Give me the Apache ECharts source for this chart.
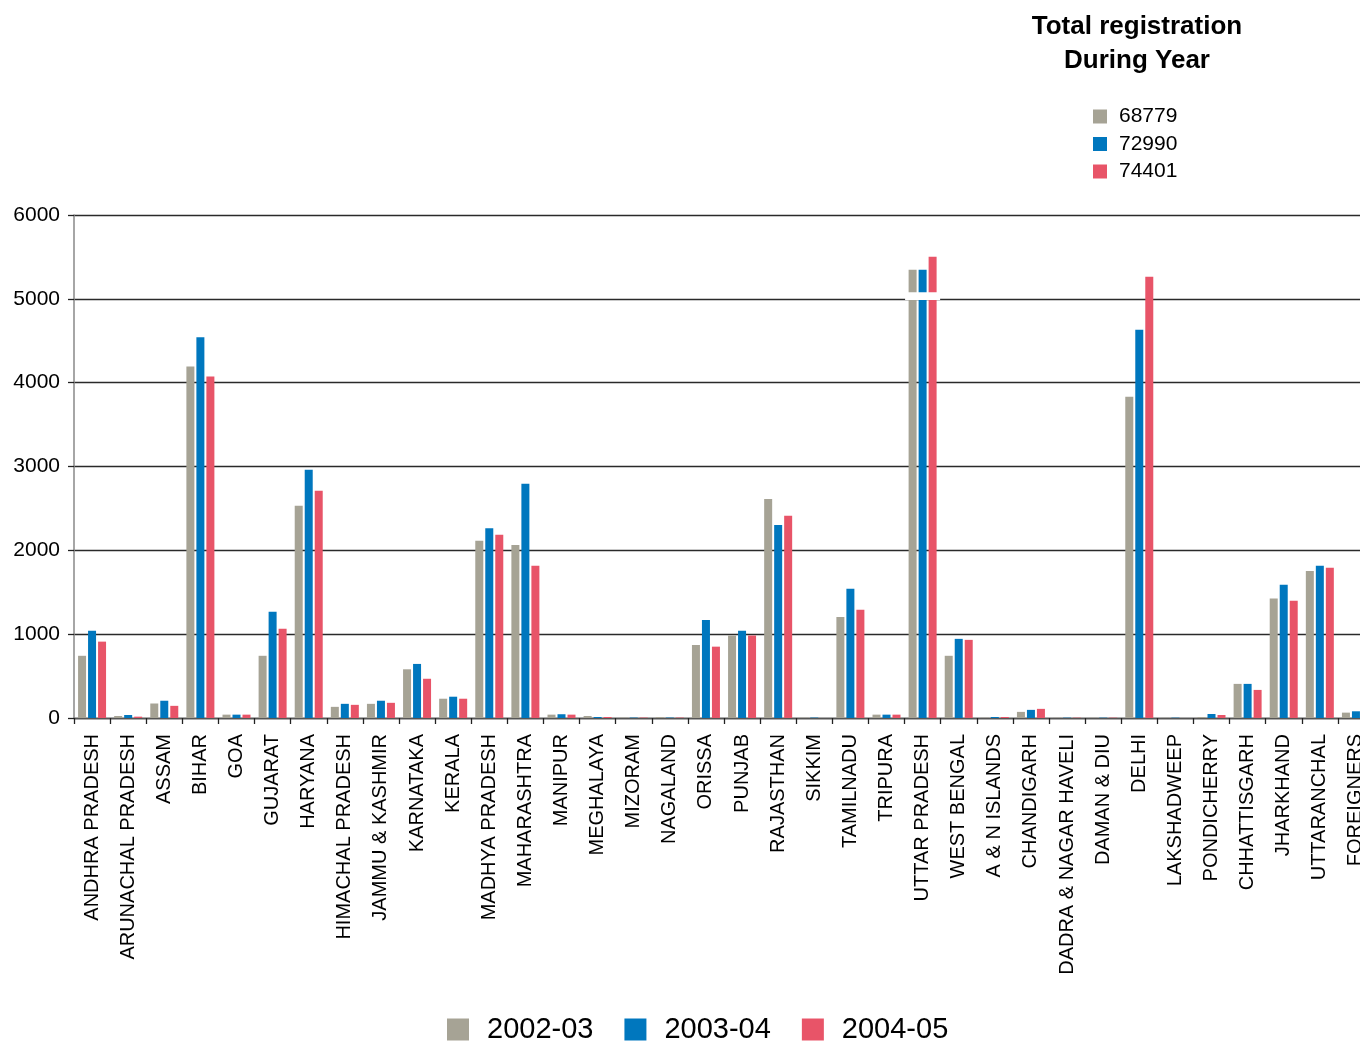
<!DOCTYPE html>
<html style="height: 100%">
<head>
<meta charset="utf-8">
</head>
<body style="height: 100%; margin: 0">
<div id="container" style="width: 1360px; height: 1043px"></div>
<script type="text/javascript" src="https://cdn.jsdelivr.net/npm/echarts@6/dist/echarts.min.js"></script>
<script type="text/javascript">
// states / UTs
var states = ['ANDHRA PRADESH', 'ARUNACHAL PRADESH', 'ASSAM', 'BIHAR', 'GOA', 'GUJARAT', 'HARYANA',
    'HIMACHAL PRADESH', 'JAMMU & KASHMIR', 'KARNATAKA', 'KERALA', 'MADHYA PRADESH', 'MAHARASHTRA',
    'MANIPUR', 'MEGHALAYA', 'MIZORAM', 'NAGALAND', 'ORISSA', 'PUNJAB', 'RAJASTHAN', 'SIKKIM',
    'TAMILNADU', 'TRIPURA', 'UTTAR PRADESH', 'WEST BENGAL', 'A & N ISLANDS', 'CHANDIGARH',
    'DADRA & NAGAR HAVELI', 'DAMAN & DIU', 'DELHI', 'LAKSHADWEEP', 'PONDICHERRY', 'CHHATTISGARH',
    'JHARKHAND', 'UTTARANCHAL', 'FOREIGNERS'];

var years = ['2002-03', '2003-04', '2004-05'];
var yearTotals = [68779, 72990, 74401];

var y2002 = [742, 24, 173, 4194, 40, 742, 2533, 133, 169, 581, 230, 2113, 2065, 40, 24, 5, 12, 871, 984, 2613, 3,
    1206, 40, 5348, 742, 4, 73, 3, 3, 3831, 2, 12, 407, 1424, 1754, 64];
var y2003 = [1040, 36, 206, 4541, 40, 1266, 2960, 169, 206, 645, 254, 2263, 2795, 45, 12, 5, 5, 1170, 1040, 2303, 5,
    1541, 40, 5348, 944, 12, 97, 4, 4, 4630, 4, 48, 407, 1589, 1815, 80];
var y2004 = [911, 16, 145, 4073, 40, 1065, 2710, 157, 181, 468, 230, 2186, 1815, 40, 12, 5, 5, 851, 984, 2412, 0,
    1291, 40, 5501, 932, 12, 109, 4, 4, 5263, 0, 36, 335, 1399, 1791, 70];

// white gap drawn across the truncated bar group
var breakBand = [['UTTAR PRADESH', 4985, 5080]];

var colors = ['#A6A395', '#0077BE', '#E85468'];
var font = "'Liberation Sans', Arial, Helvetica, sans-serif";

var dom = document.getElementById("container");
var myChart = echarts.init(dom);

function barSeries(i, data) {
    return {
        name: years[i],
        type: 'bar',
        barWidth: 8,
        barGap: '25%',
        itemStyle: { color: colors[i] },
        data: data
    };
}

var option = {
    backgroundColor: '#fff',
    animation: false,
    color: colors,
    textStyle: { fontFamily: font },
    title: {
        text: 'Total registration\nDuring Year',
        left: 1132,
        top: 5,
        textAlign: 'center',
        textStyle: {
            fontFamily: font,
            fontSize: 26,
            fontWeight: 'bold',
            lineHeight: 34,
            color: '#000'
        }
    },
    legend: [{
        data: years,
        orient: 'vertical',
        left: 1093,
        top: 106,
        padding: 0,
        itemWidth: 14,
        itemHeight: 14,
        itemGap: 6.5,
        icon: 'rect',
        formatter: function (name) {
            return String(yearTotals[years.indexOf(name)]);
        },
        textStyle: { fontFamily: font, fontSize: 21, color: '#000', padding: [0, 0, 0, 7] }
    }, {
        data: years,
        orient: 'horizontal',
        left: 447,
        top: 1015,
        padding: 0,
        itemWidth: 22,
        itemHeight: 22,
        itemGap: 31,
        icon: 'rect',
        textStyle: { fontFamily: font, fontSize: 29, color: '#000', padding: [0, 0, 0, 13] }
    }],
    grid: {
        left: 74,
        top: 215,
        width: 1300,
        height: 503,
        outerBoundsMode: 'none'
    },
    xAxis: {
        type: 'category',
        data: states,
        axisLine: { lineStyle: { color: '#555', width: 1.3 } },
        axisTick: { show: true, length: 6, lineStyle: { color: '#222', width: 1.3 } },
        axisLabel: {
            interval: 0,
            rotate: 90,
            margin: 16,
            fontSize: 20,
            color: '#000',
            fontFamily: font
        }
    },
    yAxis: {
        type: 'value',
        min: 0,
        max: 6000,
        interval: 1000,
        axisLine: { show: true, lineStyle: { color: '#888', width: 1.5 } },
        axisTick: { show: true, length: 6, lineStyle: { color: '#222', width: 1.3 } },
        splitLine: { lineStyle: { color: '#2a2a2a', width: 1.3 } },
        axisLabel: {
            fontSize: 21,
            color: '#000',
            margin: 14,
            fontFamily: font,
            formatter: function (v) { return String(v); }
        }
    },
    series: [
        barSeries(0, y2002),
        barSeries(1, y2003),
        barSeries(2, y2004),
        {
            name: 'break',
            type: 'custom',
            silent: true,
            z: 5,
            renderItem: function (params, api) {
                var lo = api.coord([api.value(0), api.value(1)]);
                var hi = api.coord([api.value(0), api.value(2)]);
                var w = api.size([1, 0])[0] * 0.97;
                return {
                    type: 'rect',
                    shape: { x: lo[0] - w / 2, y: hi[1], width: w, height: lo[1] - hi[1] },
                    style: { fill: '#fff' }
                };
            },
            data: breakBand
        }
    ]
};

myChart.setOption(option, true);
window.onresize = function () {
    myChart.resize();
};
</script>
</body>
</html>
